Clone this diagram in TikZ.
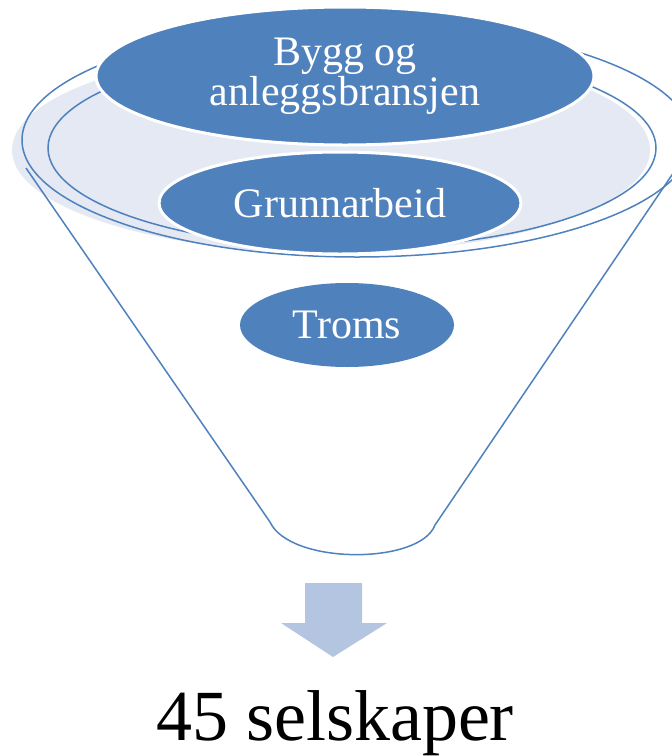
\documentclass[tikz,border=0pt]{standalone}
\usepackage{fontspec}
\setmainfont{Liberation Serif}
\usetikzlibrary{shapes.geometric}
\definecolor{accentblue}{RGB}{79,129,189}
\definecolor{rimfill}{RGB}{228,233,243}
\definecolor{arrowblue}{RGB}{180,197,225}
\tikzset{
  rimline/.style={draw=accentblue, line width=1.5pt},
  stage/.style={ellipse, fill=accentblue, text=white, inner sep=0pt, align=center,
                font=\fontsize{42}{40}\selectfont},
  stagerim/.style={stage, draw=white, line width=3pt},
}
\begin{document}
\begin{tikzpicture}[x=1pt, y=-1pt]
\useasboundingbox (0,0) rectangle (672,756);

% soft fill inside the funnel mouth
\fill[rimfill] (331,150) ellipse [x radius=319pt, y radius=103pt];

% funnel body: outer rim, sides and rounded bottom
\draw[rimline] (357,140) ellipse [x radius=335pt, y radius=117pt];
\draw[rimline, line join=round]
  (26,168) -- (270,522) .. controls (290,565) and (420,565) .. (435,525) -- (678,166);

% inner rim
\draw[rimline] (352,148) ellipse [x radius=304pt, y radius=100pt];

% filter stages
\node[stage, minimum width=214pt, minimum height=84pt] (troms) at (347,325) {Troms};
\node[stagerim, minimum width=362pt, minimum height=102pt] (grunn) at (340,203) {Grunnarbeid};
\node[stagerim, minimum width=498pt, minimum height=138pt] (bygg) at (345,76) {Bygg og\\anleggsbransjen};

% output arrow
\fill[arrowblue] (305,583) -- (362,583) -- (362,623) -- (387,623) -- (333,657)
  -- (281,623) -- (305,623) -- cycle;

% result
\node[font=\fontsize{72}{80}\selectfont, anchor=base] (result) at (335,740) {45 selskaper};
\end{tikzpicture}
\end{document}
